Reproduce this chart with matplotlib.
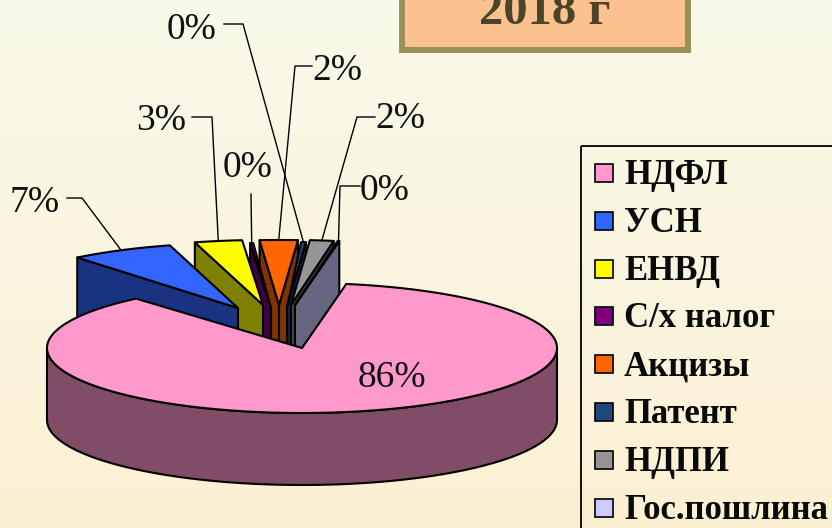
import numpy as np
import matplotlib
matplotlib.use("Agg")
import matplotlib.pyplot as plt
from matplotlib.patches import Polygon, Rectangle
from matplotlib.colors import LinearSegmentedColormap

plt.rcParams['font.family'] = ['Liberation Serif', 'DejaVu Serif']

# data
names = ['НДФЛ', 'УСН', 'ЕНВД', 'С/х налог', 'Акцизы', 'Патент', 'НДПИ', 'Гос.пошлина']
values = [85.95, 6.55, 3.0, 0.2, 2.4, 0.3, 1.5, 0.1]
title = '2018 г'

# styles
colors = ['#ff99cc', '#3366ff', '#ffff00', '#800080', '#ff6600', '#1f497d', '#969696', '#ccccff']
walls = ['#804c66', '#1a3380', '#808000', '#400040', '#803300', '#0f2540', '#4b4b4b', '#666680']

# pie layout, in pixels
cx, cy = 302, 348
rx, ry = 255, 65
depth = 72
start_angle = 10
apex_dx = [0, -64, -39, -31, -23, -15, -11, -7]
apex_dy = [0, -40, -43, -40, -43, -41, -43, -43]
# exploded slices look rotated a bit by the perspective of the original
angle_shift = [0, 1.5, 1.5, 1.5, 1.1, 0, 0, 0]
draw_order = [4, 3, 2, 1, 5, 6, 7, 0]

# label position, elbow of the leader line (None = no leader)
label_xy = [(392, 378), (35, 203), (161, 121), (248, 168), (337, 71), (192, 30), (400, 119), (385, 191)]
elbow_xy = [None, (67, 198), (192, 117), None, (312, 66), (224, 24), (375, 117), (360, 186)]
elbow2_xy = [None, (82, 198), (212, 117), (251, 194), (295, 66), (243, 24), (357, 117), (340, 186)]

fig = plt.figure(figsize=(8.32, 5.28), dpi=100)
ax = fig.add_axes([0, 0, 1, 1])

# background
cmap = LinearSegmentedColormap.from_list('bg', ['#fafaea', '#f9f5e0', '#fdf0d3'])
ax.imshow(np.linspace(0, 1, 256).reshape(-1, 1), cmap=cmap, aspect='auto', extent=[0, 832, 528, 0])
ax.set_xlim(0, 832)
ax.set_ylim(528, 0)
ax.axis('off')


def point(x0, y0, a):
    a = np.radians(a)
    return x0 + rx * np.sin(a), y0 - ry * np.cos(a)


def side_wall(x0, y0, a, color, z):
    x1, y1 = point(x0, y0, a)
    pts = [(x0, y0), (x1, y1), (x1, y1 + depth), (x0, y0 + depth)]
    ax.add_patch(Polygon(pts, fc=color, ec='black', lw=1.5, joinstyle='round', zorder=z))


# slice angles come from the values
edges = start_angle + np.cumsum([0] + values) * 3.6
z = 2
for i in draw_order:
    s0, s1 = edges[i], edges[i + 1]
    # angles from -180..180 around the top of the pie
    if s0 >= 180:
        s0, s1 = s0 - 360, s1 - 360
    s0 += angle_shift[i]
    s1 += angle_shift[i]
    x0 = cx + apex_dx[i]
    y0 = cy + apex_dy[i]
    if i != 0:
        if s0 < 0:
            side_wall(x0, y0, s0, walls[i], z)
            z += 1
        if s1 > 0:
            side_wall(x0, y0, s1, walls[i], z)
            z += 1
    else:
        # outer rim of the big slice
        t = np.linspace(90, 270, 181)
        xs, ys = point(x0, y0, t)
        rim = np.column_stack([np.r_[xs, xs[::-1]], np.r_[ys, ys[::-1] + depth]])
        ax.add_patch(Polygon(rim, fc=walls[i], ec='black', lw=1.5, zorder=z))
        z += 1
    t = np.linspace(s0, s1, max(int(s1 - s0) * 2, 4))
    xs, ys = point(x0, y0, t)
    top = [(x0, y0)] + list(zip(xs, ys))
    ax.add_patch(Polygon(top, fc=colors[i], ec='black', lw=1.5, joinstyle='round', zorder=z))
    z += 1

# labels and leader lines
for i, v in enumerate(values):
    ax.text(label_xy[i][0], label_xy[i][1], f'{v:.0f}%', fontsize=27, color='#111111',
            ha='center', va='center', zorder=50)
    if elbow2_xy[i] is None:
        continue
    mid = (edges[i] + edges[i + 1]) / 2 - 360 + angle_shift[i]
    rim_x, rim_y = point(cx + apex_dx[i], cy + apex_dy[i], mid)
    line = [elbow2_xy[i], (rim_x, rim_y)]
    if elbow_xy[i] is not None:
        line = [elbow_xy[i]] + line
    line = np.array(line)
    ax.plot(line[:, 0], line[:, 1], color='black', lw=1.0, zorder=40)

# title box
ax.add_patch(Rectangle((402, -20), 286, 70, fc='#fbc290', ec='#9a9058', lw=4.3, zorder=30))
ax.text(545, 24, title, fontsize=35, fontweight='bold', color='#4a4428', ha='center', va='baseline', zorder=31)

# legend
ax.add_patch(Rectangle((581, 146), 300, 420, fc='none', ec='black', lw=1.3, zorder=30))
for i, name in enumerate(names):
    y = 173 + 47.8 * i
    ax.add_patch(Rectangle((595, y - 9), 18, 18, fc=colors[i], ec='black', lw=1.2, zorder=31))
    ax.text(624, y + 11, name, fontsize=25, fontweight='bold', color='#0a0a0a',
            ha='left', va='baseline', zorder=31)

fig.savefig('out.png', dpi=100)
